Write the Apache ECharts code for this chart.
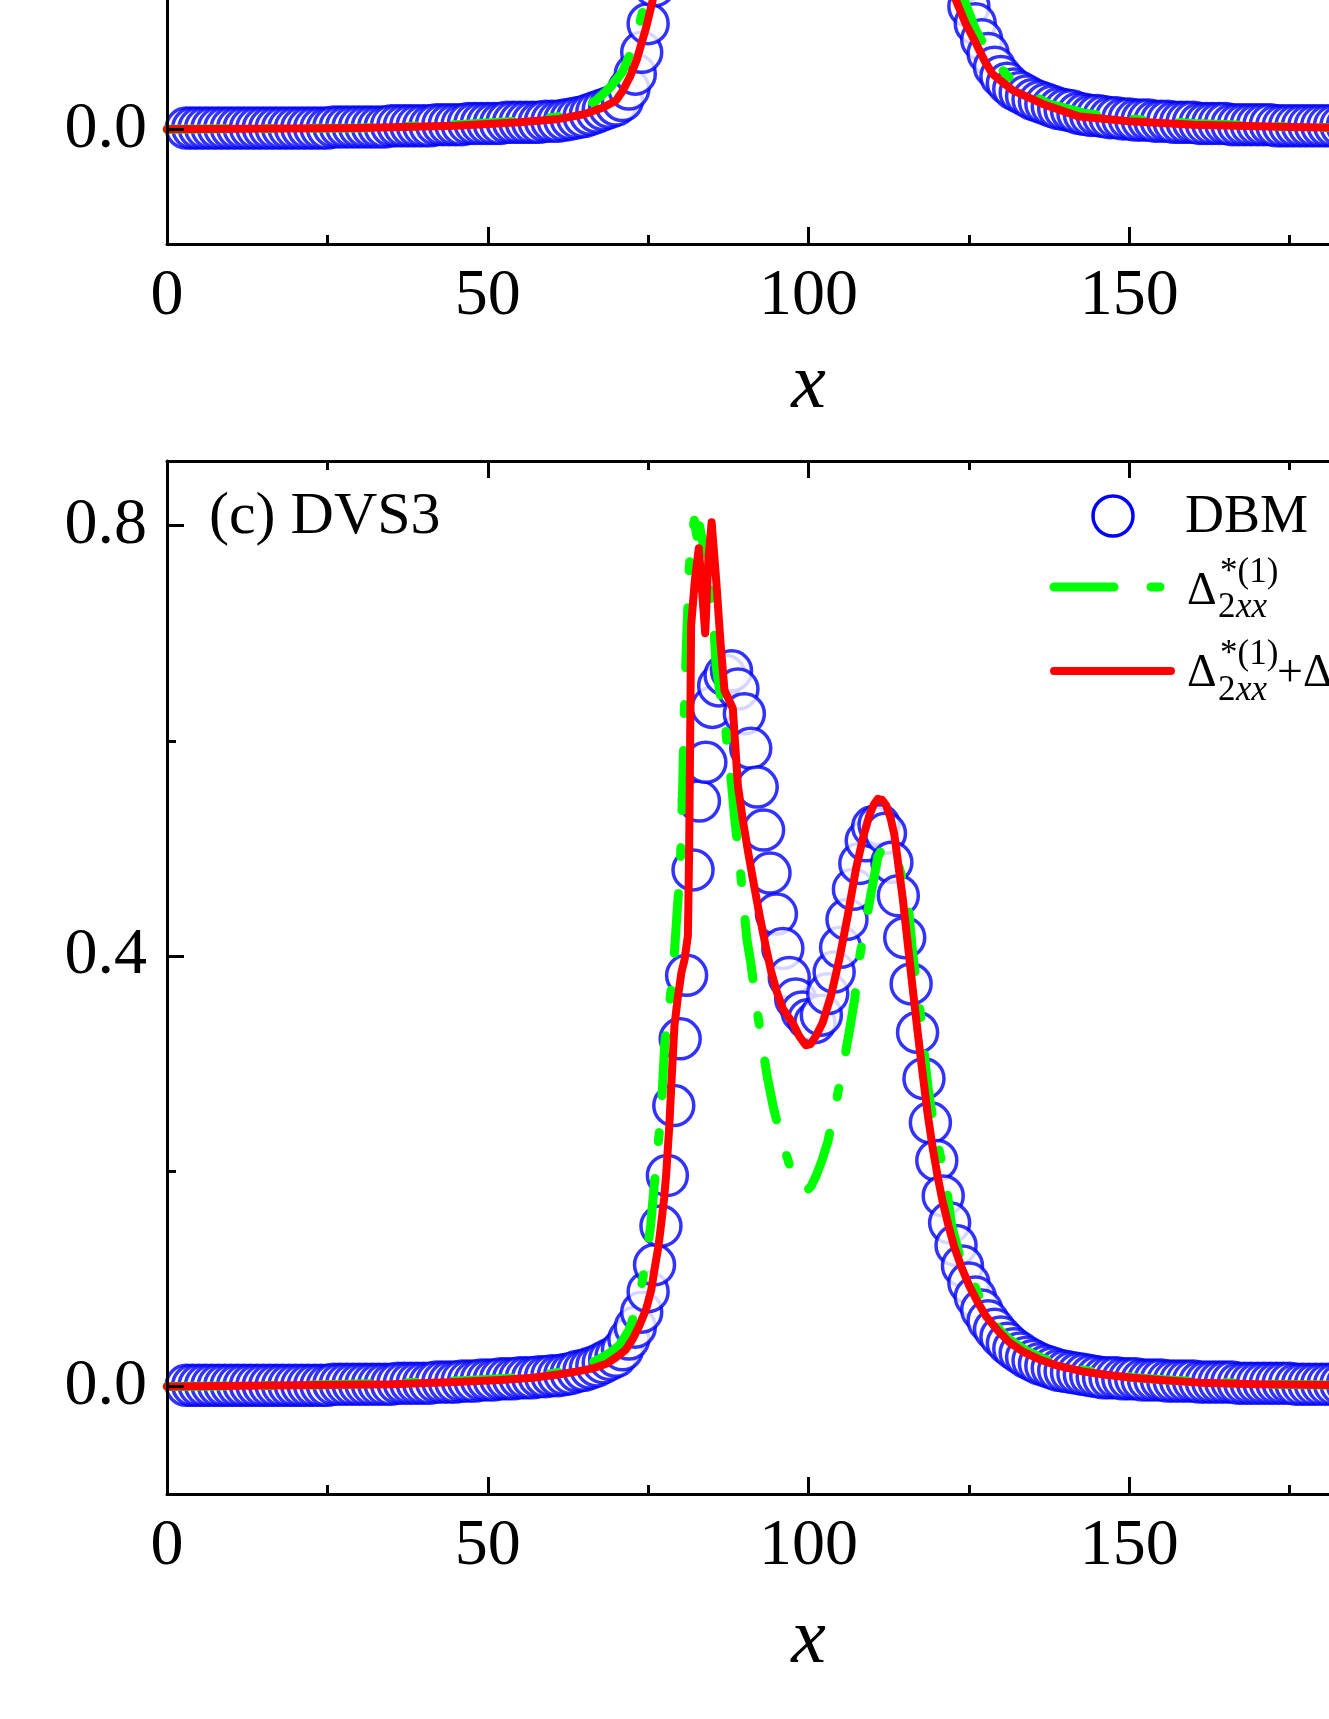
<!DOCTYPE html>
<html>
<head>
<meta charset="utf-8">
<title>DBM vs Delta_2xx</title>
<script src="https://cdn.jsdelivr.net/npm/echarts@6/dist/echarts.min.js"></script>
<style>
  html, body { margin: 0; padding: 0; background: #fff; overflow: hidden; width: 1329px; height: 1719px; }
  /* the figure is cropped: the upper panel runs off the top, x = 200 runs off the right */
  #main { position: absolute; left: 0; top: -800px; width: 1500px; height: 2519px; }
</style>
</head>
<body>
<div id="main"></div>
<script>
// x positions of the DBM samples (grid spacing 1)
const dbmX = [
  3, 4, 5, 6, 7, 8, 9, 10,
  11, 12, 13, 14, 15, 16, 17, 18, 19, 20,
  21, 22, 23, 24, 25, 26, 27, 28, 29, 30,
  31, 32, 33, 34, 35, 36, 37, 38, 39, 40,
  41, 42, 43, 44, 45, 46, 47, 48, 49, 50,
  51, 52, 53, 54, 55, 56, 57, 58, 59, 60,
  61, 62, 63, 64, 65, 66, 67, 68, 69, 70,
  71, 72, 73, 74, 75, 76, 77, 78, 79, 80,
  81, 82, 83, 84, 85, 86, 87, 88, 89, 90,
  91, 92, 93, 94, 95, 96, 97, 98, 99, 100,
  101, 102, 103, 104, 105, 106, 107, 108, 109, 110,
  111, 112, 113, 114, 115, 116, 117, 118, 119, 120,
  121, 122, 123, 124, 125, 126, 127, 128, 129, 130,
  131, 132, 133, 134, 135, 136, 137, 138, 139, 140,
  141, 142, 143, 144, 145, 146, 147, 148, 149, 150,
  151, 152, 153, 154, 155, 156, 157, 158, 159, 160,
  161, 162, 163, 164, 165, 166, 167, 168, 169, 170,
  171, 172, 173, 174, 175, 176, 177, 178, 179, 180,
  181, 182, 183, 184, 185, 186, 187, 188, 189, 190,
  191, 192, 193, 194, 195, 196, 197, 198, 199, 200
]

// upper panel, DBM (only the foot of the peak is in view)
const dbmB = [
  0.001, 0.001, 0.001, 0.001, 0.001, 0.001, 0.001, 0.001,
  0.001, 0.001, 0.001, 0.001, 0.001, 0.001, 0.001, 0.001, 0.001, 0.001,
  0.001, 0.001, 0.001, 0.001, 0.001, 0.002, 0.002, 0.002, 0.002, 0.002,
  0.002, 0.002, 0.002, 0.002, 0.003, 0.003, 0.003, 0.003, 0.003, 0.003,
  0.003, 0.004, 0.004, 0.004, 0.004, 0.004, 0.005, 0.005, 0.005, 0.005,
  0.005, 0.005, 0.006, 0.006, 0.006, 0.006, 0.006, 0.006, 0.007, 0.007,
  0.007, 0.008, 0.009, 0.010, 0.011, 0.013, 0.015, 0.017, 0.019, 0.021,
  0.025, 0.035, 0.048, 0.067, 0.092, 0.125, 0.165, 0.215, 0.270, 0.330,
  0.390, 0.440, 0.480, 0.510, 0.530, 0.540, 0.545, 0.548, 0.550, 0.550,
  0.550, 0.550, 0.550, 0.550, 0.550, 0.550, 0.550, 0.550, 0.550, 0.550,
  0.550, 0.550, 0.550, 0.550, 0.550, 0.550, 0.550, 0.550, 0.550, 0.550,
  0.550, 0.548, 0.545, 0.540, 0.530, 0.510, 0.480, 0.440, 0.390, 0.330,
  0.270, 0.215, 0.165, 0.128, 0.107, 0.092, 0.078, 0.066, 0.054, 0.046,
  0.040, 0.035, 0.032, 0.029, 0.026, 0.024, 0.022, 0.020, 0.018, 0.017,
  0.016, 0.014, 0.013, 0.012, 0.012, 0.011, 0.010, 0.010, 0.009, 0.009,
  0.008, 0.008, 0.008, 0.007, 0.007, 0.007, 0.006, 0.006, 0.006, 0.006,
  0.005, 0.005, 0.005, 0.005, 0.005, 0.004, 0.004, 0.004, 0.004, 0.004,
  0.004, 0.004, 0.003, 0.003, 0.003, 0.003, 0.003, 0.003, 0.003, 0.003,
  0.003, 0.003, 0.003, 0.003, 0.003, 0.003, 0.003, 0.003, 0.003, 0.003,
  0.002, 0.002, 0.002, 0.002, 0.002, 0.002, 0.002, 0.002, 0.002, 0.002
]

// panel (c) DVS3, DBM
const dbmC = [
  0.001, 0.001, 0.001, 0.001, 0.001, 0.001, 0.001, 0.001,
  0.001, 0.001, 0.001, 0.001, 0.001, 0.001, 0.001, 0.001, 0.001, 0.001,
  0.001, 0.001, 0.001, 0.001, 0.001, 0.002, 0.002, 0.002, 0.002, 0.002,
  0.002, 0.002, 0.002, 0.002, 0.002, 0.003, 0.003, 0.003, 0.003, 0.003,
  0.003, 0.004, 0.004, 0.004, 0.004, 0.005, 0.005, 0.005, 0.006, 0.006,
  0.006, 0.007, 0.007, 0.007, 0.008, 0.008, 0.008, 0.009, 0.009, 0.010,
  0.010, 0.011, 0.012, 0.014, 0.015, 0.017, 0.019, 0.022, 0.025, 0.028,
  0.034, 0.044, 0.055, 0.069, 0.088, 0.113, 0.149, 0.196, 0.261, 0.323,
  0.382, 0.480, 0.544, 0.580, 0.631, 0.651, 0.661, 0.665, 0.648, 0.625,
  0.593, 0.557, 0.517, 0.477, 0.439, 0.407, 0.380, 0.360, 0.348, 0.341,
  0.338, 0.345, 0.365, 0.385, 0.408, 0.434, 0.462, 0.486, 0.507, 0.520,
  0.522, 0.514, 0.487, 0.456, 0.417, 0.374, 0.329, 0.286, 0.245, 0.210,
  0.177, 0.152, 0.131, 0.112, 0.096, 0.083, 0.071, 0.061, 0.053, 0.046,
  0.040, 0.035, 0.031, 0.027, 0.024, 0.021, 0.019, 0.017, 0.015, 0.014,
  0.013, 0.012, 0.011, 0.010, 0.009, 0.008, 0.008, 0.008, 0.007, 0.007,
  0.007, 0.006, 0.006, 0.006, 0.006, 0.005, 0.005, 0.005, 0.005, 0.005,
  0.004, 0.004, 0.004, 0.004, 0.004, 0.004, 0.003, 0.003, 0.003, 0.003,
  0.003, 0.003, 0.003, 0.003, 0.003, 0.002, 0.002, 0.002, 0.002, 0.002,
  0.002, 0.002, 0.002, 0.002, 0.002, 0.002, 0.002, 0.002, 0.002, 0.002,
  0.002, 0.002, 0.002, 0.002, 0.002, 0.002, 0.002, 0.002, 0.002, 0.002
]

// upper panel curves [x, y]
const greenB = [
  [0, 0], [30, 0.001], [45, 0.004], [55, 0.007], [61, 0.011], [64, 0.016], [66.9, 0.025],
  [69, 0.036], [71, 0.05], [72.9, 0.075], [74.2, 0.104], [75, 0.13], [76, 0.18], [77, 0.25],
  [78, 0.33], [80, 0.45], [83, 0.52], [90, 0.55], [110, 0.55], [117, 0.52], [120, 0.45],
  [122, 0.33], [123.2, 0.2], [124.3, 0.112], [126.1, 0.086], [128.5, 0.063], [131.1, 0.046],
  [134, 0.032], [137.5, 0.022], [143, 0.014], [150, 0.009], [160, 0.005], [175, 0.002], [200, 0]
]
const redB = [
  [0, 0], [30, 0.001], [45, 0.003], [55, 0.006], [61.2, 0.009], [65, 0.013], [68, 0.019],
  [70, 0.025], [71.1, 0.034], [72.2, 0.046], [73.2, 0.06], [74.7, 0.089], [75.7, 0.112],
  [76.5, 0.15], [77.3, 0.2], [78, 0.26], [79, 0.35], [80, 0.43], [82, 0.5], [85, 0.54],
  [90, 0.55], [110, 0.55], [115, 0.54], [118, 0.5], [120, 0.43], [121, 0.35], [121.8, 0.25],
  [122.4, 0.17], [123, 0.112], [124.5, 0.092], [126.1, 0.075], [127.4, 0.06], [128.7, 0.048],
  [131.8, 0.034], [136.5, 0.022], [142.2, 0.011], [150, 0.007], [160, 0.004], [175, 0.002], [200, 0]
]

// panel (c) curves [x, y]
const greenC = [
  [0, 0], [20, 0.001], [35, 0.003], [45, 0.005], [52, 0.007], [57, 0.009], [61, 0.013],
  [64, 0.017], [66.9, 0.024], [69, 0.031], [70.5, 0.038], [72, 0.052], [73.5, 0.078],
  [74.7, 0.118], [75.4, 0.15], [76, 0.19], [76.5, 0.222], [77, 0.251], [77.6, 0.32],
  [78.1, 0.344], [78.9, 0.385], [79.5, 0.44], [80, 0.48], [80.4, 0.56], [80.6, 0.62],
  [80.8, 0.66], [81.1, 0.71], [81.4, 0.76], [81.8, 0.79], [82.2, 0.805], [82.6, 0.79],
  [83, 0.8], [83.5, 0.785], [84, 0.765], [84.6, 0.74], [85.1, 0.72], [85.6, 0.67],
  [86.3, 0.64], [86.9, 0.624], [87.4, 0.59], [88, 0.56], [88.5, 0.527], [89.2, 0.49],
  [89.8, 0.453], [90.4, 0.415], [91, 0.394], [91.8, 0.357], [92.6, 0.325], [93.5, 0.29],
  [94.5, 0.26], [95.5, 0.236], [96.5, 0.216], [97.5, 0.197], [98.5, 0.186], [99.6, 0.181],
  [100.4, 0.186], [101.2, 0.196], [102.1, 0.21], [103, 0.227], [104.3, 0.264], [105.6, 0.304],
  [106.5, 0.335], [107.2, 0.36], [107.9, 0.397], [109, 0.434], [110, 0.466], [110.8, 0.492],
  [111.8, 0.503], [112.6, 0.502], [113.4, 0.497], [114.5, 0.475], [115.5, 0.45], [116.2, 0.405],
  [116.9, 0.37], [117.6, 0.34], [118.2, 0.3], [118.8, 0.27], [119.5, 0.245], [120.2, 0.224],
  [121.4, 0.19], [122.3, 0.15], [123.5, 0.123], [124.5, 0.108], [125.6, 0.098], [126.8, 0.081],
  [128.2, 0.065], [130, 0.051], [131.5, 0.043], [134, 0.033], [136.5, 0.026], [140, 0.02],
  [143, 0.015], [147, 0.011], [151, 0.008], [156, 0.006], [162, 0.004], [172, 0.002],
  [186, 0.001], [200, 0]
]
const redC = [
  [0, 0], [20, 0.001], [35, 0.002], [45, 0.004], [52, 0.006], [57, 0.008], [61, 0.011],
  [64, 0.014], [66.5, 0.017], [68.5, 0.021], [70, 0.027], [71.5, 0.034], [72.6, 0.044],
  [73.6, 0.056], [74.7, 0.072], [75.5, 0.09], [76, 0.109], [76.6, 0.13], [77, 0.149],
  [77.5, 0.175], [77.8, 0.196], [78.3, 0.242], [78.7, 0.29], [79.1, 0.335], [79.6, 0.36],
  [80.2, 0.385], [80.7, 0.397], [81.2, 0.419], [81.4, 0.5], [81.55, 0.6], [81.7, 0.707],
  [82.3, 0.75], [82.9, 0.779], [83.4, 0.74], [83.9, 0.7], [84.4, 0.77], [84.9, 0.803],
  [85.6, 0.75], [86.3, 0.69], [86.9, 0.647], [87.6, 0.638], [88.2, 0.63], [89, 0.558],
  [89.8, 0.525], [90.6, 0.496], [91.5, 0.466], [92.4, 0.437], [93.3, 0.41], [94.2, 0.385],
  [95.1, 0.366], [96, 0.351], [96.8, 0.344], [97.6, 0.337], [98.6, 0.325], [99.6, 0.317],
  [100.3, 0.318], [101.2, 0.326], [102.2, 0.338], [103.5, 0.363], [104.8, 0.397],
  [106.1, 0.437], [107.4, 0.481], [108.5, 0.51], [109.5, 0.531], [110.2, 0.541],
  [110.8, 0.546], [111.5, 0.545], [112.1, 0.54], [112.8, 0.528], [113.4, 0.512], [114, 0.485],
  [114.7, 0.453], [115.5, 0.41], [116.2, 0.372], [117, 0.33], [117.8, 0.29], [118.6, 0.252],
  [119.4, 0.22], [120.2, 0.193], [120.9, 0.172], [121.8, 0.15], [122.7, 0.13], [123.9, 0.11],
  [125.1, 0.093], [126.4, 0.078], [127.7, 0.065], [129.5, 0.052], [131.3, 0.041],
  [133.5, 0.032], [136, 0.025], [139, 0.019], [142.7, 0.014], [146, 0.011], [150.5, 0.008],
  [155, 0.006], [160.9, 0.0035], [170, 0.002], [185, 0.001], [200, 0]
]

// tick labels
const xTicks = [0, 50, 100, 150, 200]
const yMajor = [0, 0.4, 0.8]
const yMinor = [0.2, 0.6]

const FONT = 'Liberation Serif'
const BLUE = '#0000ff'
const GREEN = '#00ff00'
const RED = '#ff0000'
const DASH_DOT = [60, 37, 9, 37]
const OFF = 800 // the chart div starts 800px above the page

const pairs = (xs, ys) => xs.map((x, i) => [x, ys[i]])

const xAxisBase = (grid, pos) => ({
  gridIndex: grid,
  type: 'value',
  position: pos,
  min: xTicks[0],
  max: xTicks[xTicks.length - 1],
  interval: 50,
  z: 10,
  splitLine: {show: false},
  axisLine: {onZero: false, lineStyle: {color: '#000', width: 3}},
  axisTick: {inside: true, length: 17, lineStyle: {color: '#000', width: 3}},
  minorTick: {show: true, splitNumber: 2, length: 9, lineStyle: {color: '#000', width: 3}},
  axisLabel: {show: pos === 'bottom', margin: 20, fontFamily: FONT, fontSize: 66, color: '#000'}
})

const yMajorAxis = (grid, max) => ({
  gridIndex: grid,
  type: 'value',
  position: 'left',
  min: -0.1,
  max: max,
  z: 10,
  splitLine: {show: false},
  axisLine: {onZero: false, lineStyle: {color: '#000', width: 3}},
  axisTick: {inside: true, length: 17, customValues: yMajor, lineStyle: {color: '#000', width: 3}},
  axisLabel: {
    margin: 20, fontFamily: FONT, fontSize: 66, color: '#000',
    customValues: yMajor,
    formatter: (v) => v.toFixed(1)
  }
})

const yMinorAxis = (grid, max) => ({
  gridIndex: grid,
  type: 'value',
  position: 'left',
  min: -0.1,
  max: max,
  z: 10,
  splitLine: {show: false},
  axisLine: {show: false},
  axisTick: {inside: true, length: 9, customValues: yMinor, lineStyle: {color: '#000', width: 3}},
  axisLabel: {show: false, customValues: yMinor}
})

const xName = (axis, gap) => Object.assign(axis, {
  name: 'x',
  nameLocation: 'middle',
  nameGap: gap,
  nameTextStyle: {fontFamily: FONT, fontSize: 78, fontStyle: 'italic', color: '#000'}
})

const dbmSeries = (data, xi, yi) => ({
  name: 'DBM',
  type: 'scatter',
  xAxisIndex: xi,
  yAxisIndex: yi,
  data: data,
  symbol: 'circle',
  symbolSize: 40,
  itemStyle: {color: '#fff', borderColor: BLUE, borderWidth: 3.5},
  emphasis: {disabled: true},
  z: 2
})

const lineSeries = (name, data, xi, yi, color, width, dash, z) => ({
  name: name,
  type: 'line',
  xAxisIndex: xi,
  yAxisIndex: yi,
  data: data,
  symbol: 'none',
  smooth: false,
  lineStyle: {color: color, width: width, type: dash, cap: 'round', join: 'round'},
  emphasis: {disabled: true},
  z: z
})

// page coordinates -> chart div coordinates
const txt = (x, y, text, size, extra) => ({
  type: 'text',
  x: x,
  y: y + OFF,
  z: 100,
  style: Object.assign({
    text: text,
    font: size + 'px "' + FONT + '"',
    fill: '#000',
    textAlign: 'left',
    textVerticalAlign: 'middle'
  }, extra || {})
})

const italic = (x, y, text, size) => txt(x, y, text, size, {font: 'italic ' + size + 'px "' + FONT + '"'})

const legendLine = (x1, x2, y, color, width, dash) => ({
  type: 'line', z: 100,
  shape: {x1: x1, y1: y + OFF, x2: x2, y2: y + OFF},
  style: {stroke: color, lineWidth: width, lineDash: dash, lineCap: 'round'}
})

const option = {
  animation: false,
  backgroundColor: '#fff',
  grid: [
    {left: 167, top: OFF - 789, width: 1283, height: 1033, outerBoundsMode: 'none', containLabel: false},
    {left: 167, top: OFF + 461, width: 1283, height: 1033, outerBoundsMode: 'none', containLabel: false}
  ],
  xAxis: [
    xName(xAxisBase(0, 'bottom'), 103),
    xName(xAxisBase(1, 'bottom'), 108),
    xAxisBase(0, 'top'),
    xAxisBase(1, 'top')
  ],
  yAxis: [
    yMajorAxis(0, 0.8),
    yMajorAxis(1, 0.86),
    yMinorAxis(0, 0.8),
    yMinorAxis(1, 0.86)
  ],
  series: [
    dbmSeries(pairs(dbmX, dbmB), 0, 0),
    lineSeries('green', greenB, 0, 0, GREEN, 9, DASH_DOT, 3),
    lineSeries('red', redB, 0, 0, RED, 8, 'solid', 4),
    dbmSeries(pairs(dbmX, dbmC), 1, 1),
    lineSeries('green', greenC, 1, 1, GREEN, 9, DASH_DOT, 3),
    lineSeries('red', redC, 1, 1, RED, 8, 'solid', 4)
  ],
  graphic: {
    elements: [
      txt(209, 517, '(c) DVS3', 60),
      // legend
      {type: 'circle', z: 100, shape: {cx: 1113, cy: 516 + OFF, r: 20}, style: {fill: '#fff', stroke: BLUE, lineWidth: 3.5}},
      txt(1185, 518, 'DBM', 54),
      legendLine(1054, 1169, 587, GREEN, 9, DASH_DOT),
      txt(1187, 592, 'Δ', 46),
      txt(1220, 573, '*(1)', 35),
      txt(1218, 608, '2', 35),
      italic(1236, 608, 'xx', 35),
      legendLine(1054, 1171, 671, RED, 8, null),
      txt(1187, 674, 'Δ', 46),
      txt(1220, 655, '*(1)', 35),
      txt(1218, 691, '2', 35),
      italic(1236, 691, 'xx', 35),
      txt(1277, 674, '+Δ', 46),
      txt(1334, 655, '*(2)', 35),
      txt(1332, 691, '2', 35),
      italic(1350, 691, 'xx', 35)
    ]
  }
}

const chart = echarts.init(document.getElementById('main'))
chart.setOption(option)
</script>
</body>
</html>
